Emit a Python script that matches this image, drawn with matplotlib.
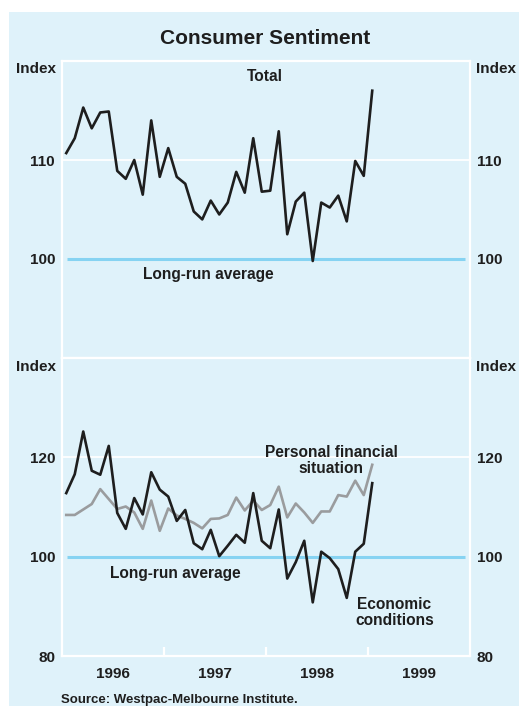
import matplotlib
matplotlib.use("Agg")
import matplotlib.pyplot as plt
from matplotlib.patches import Rectangle
import numpy as np

plt.rcParams['font.family'] = ['Liberation Sans', 'DejaVu Sans']
plt.rcParams['font.weight'] = 'bold'

# Monthly data, Jan 1996 - Jan 1999
start_year = 1996
total = [110.7, 112.2, 115.3, 113.2, 114.8, 114.9, 108.9, 108.1, 110.0, 106.5,
         114.0, 108.3, 111.2, 108.3, 107.6, 104.8, 104.0, 105.9, 104.5, 105.7,
         108.8, 106.7, 112.2, 106.8, 106.9, 112.9, 102.5, 105.8, 106.7, 99.8,
         105.7, 105.2, 106.4, 103.8, 109.9, 108.4, 117.0]
economic = [112.8, 116.6, 125.2, 117.3, 116.5, 122.3, 108.8, 105.6, 111.8, 108.5,
            117.0, 113.5, 112.1, 107.2, 109.4, 102.7, 101.5, 105.4, 100.1, 102.2,
            104.4, 102.8, 112.8, 103.2, 101.7, 109.5, 95.6, 98.9, 103.2, 90.8,
            101.0, 99.7, 97.5, 91.7, 101.0, 102.6, 114.8]
personal = [108.4, 108.4, 109.5, 110.6, 113.6, 111.6, 109.6, 110.1, 108.9, 105.6,
            111.3, 105.2, 109.7, 108.3, 107.6, 106.8, 105.7, 107.6, 107.7, 108.4,
            111.9, 109.3, 111.3, 109.4, 110.4, 114.1, 107.9, 110.7, 108.9, 106.8,
            109.1, 109.1, 112.4, 112.1, 115.3, 112.4, 118.5]
long_run_average = 100
year_labels = ['1996', '1997', '1998', '1999']
top_ticks = [100, 110]
bottom_ticks = [80, 100, 120]

x = start_year + (np.arange(len(total)) + 0.5) / 12.0

BG = '#dff2fa'
BLUE = '#86d3f2'
DARK = '#1e1e1e'
GREY = '#9a9c9e'
W, H = 519, 706
FS = 11.2

fig = plt.figure(figsize=(W / 100, H / 100), dpi=100)
fig.patch.set_facecolor('white')
fig.add_artist(Rectangle((9 / W, 0), 1 - 9 / W, 1 - 12 / H, transform=fig.transFigure,
                         facecolor=BG, edgecolor='none', zorder=0))

L, R = 62 / W, 470 / W
y_top, y_mid, y_bot = 1 - 61 / H, 1 - 358 / H, 1 - 656 / H
ax1 = fig.add_axes([L, y_mid, R - L, y_top - y_mid])
ax2 = fig.add_axes([L, y_bot, R - L, y_mid - y_bot])

for ax in (ax1, ax2):
    ax.set_facecolor(BG)
    ax.set_xlim(1996, 2000)
    for s in ax.spines.values():
        s.set_color('white')
        s.set_linewidth(1.6)

# Top panel
ax1.set_ylim(90, 120)
ax1.set_yticks(top_ticks)
ax1.set_yticklabels([str(t) for t in top_ticks], fontweight='bold')
ax1.tick_params(axis='y', length=0, labelleft=True, labelright=True, labelsize=11,
                labelcolor=DARK, pad=5)
ax1.axhline(110, color='white', lw=1.3, zorder=1)
ax1.plot([1996.05, 1999.95], [long_run_average] * 2, color=BLUE, lw=2.2, zorder=2,
         solid_capstyle='butt')
ax1.plot(x, total, color=DARK, lw=1.9, zorder=3)
ax1.set_xticks([])
ax1.text(1997.99, 118.4, 'Total', ha='center', va='center', fontsize=FS, color=DARK)
ax1.text(1997.43, 98.4, 'Long-run average', ha='center', va='center', fontsize=FS,
         color=DARK)

# Bottom panel
ax2.set_ylim(80, 140)
ax2.set_yticks(bottom_ticks)
ax2.set_yticklabels([str(t) for t in bottom_ticks], fontweight='bold')
ax2.tick_params(axis='y', length=0, labelleft=True, labelright=True, labelsize=11,
                labelcolor=DARK, pad=5)
ax2.axhline(120, color='white', lw=1.3, zorder=1)
ax2.plot([1996.05, 1999.95], [long_run_average] * 2, color=BLUE, lw=2.2, zorder=2,
         solid_capstyle='butt')
ax2.plot(x, personal, color=GREY, lw=1.9, zorder=3)
ax2.plot(x, economic, color=DARK, lw=1.9, zorder=4)
ax2.set_xticks([1997, 1998, 1999])
ax2.set_xticklabels([])
ax2.set_xticks([1996.5, 1997.5, 1998.5, 1999.5], minor=True)
ax2.set_xticklabels(year_labels, minor=True, fontweight='bold')
ax2.tick_params(axis='x', which='major', direction='in', length=6.5, width=1.6,
                color='white')
ax2.tick_params(axis='x', which='minor', length=0, pad=8, labelsize=11, labelcolor=DARK)
ax2.text(1998.64, 119.4, 'Personal financial\nsituation', ha='center', va='center',
         fontsize=FS, color=DARK, linespacing=1.05)
ax2.text(1999.26, 88.7, 'Economic\nconditions', ha='center', va='center',
         fontsize=FS, color=DARK, linespacing=1.05)
ax2.text(1997.11, 96.7, 'Long-run average', ha='center', va='center', fontsize=FS,
         color=DARK)

# Figure texts
fig.text(265 / W, 1 - 39 / H, 'Consumer Sentiment', ha='center', va='center',
         fontsize=15, fontweight='bold', color=DARK)
for yy in (69, 367):
    fig.text(56 / W, 1 - yy / H, 'Index', ha='right', va='center', fontsize=11,
             fontweight='bold', color=DARK)
    fig.text(476 / W, 1 - yy / H, 'Index', ha='left', va='center', fontsize=11,
             fontweight='bold', color=DARK)
fig.text(61 / W, 1 - 700 / H, 'Source: Westpac-Melbourne Institute.', ha='left',
         va='center', fontsize=9.5, fontweight='bold', color=DARK)

fig.savefig('out.png', dpi=100, facecolor='white')
